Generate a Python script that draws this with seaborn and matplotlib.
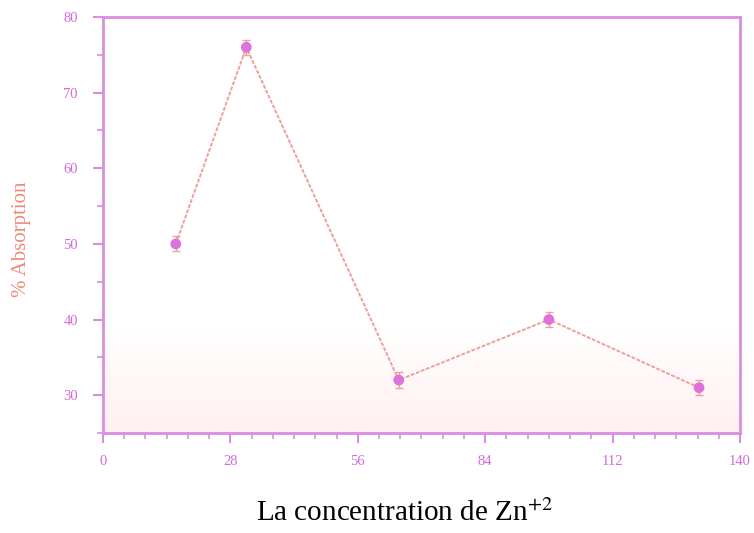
import numpy as np
import pandas as pd
import matplotlib
matplotlib.use("Agg")
import matplotlib.pyplot as plt
from matplotlib.colors import LinearSegmentedColormap
from matplotlib.ticker import MultipleLocator
import seaborn as sns

# Measured absorption against Zn2+ concentration
concentration = [16, 31.5, 65, 98, 131]
absorption = [50, 76, 32, 40, 31]
error = [1.0, 1.0, 1.0, 1.0, 1.0]
x_ticks = [0, 28, 56, 84, 112, 140]
y_ticks = [30, 40, 50, 60, 70, 80]

df = pd.DataFrame({"conc": concentration, "abs": absorption, "err": error})

sns.set_theme(style="white")
plt.rcParams["font.family"] = ["Liberation Serif", "DejaVu Serif"]
plt.rcParams["mathtext.fontset"] = "stix"

spine_c = "#d98ee0"
tick_c = "#d46ad8"
line_c = "#eaa29c"
marker_c = "#dd72dd"

fig = plt.figure(figsize=(7.54, 5.33), dpi=100)
ax = fig.add_axes([0.1366, 0.1876, 0.8448, 0.7805])

# soft pink wash in the lower part of the plotting area
grad = np.linspace(0, 1, 256).reshape(-1, 1)
cmap = LinearSegmentedColormap.from_list("wash", ["#fff0f0", "#ffffff"])
ax.imshow(grad, aspect="auto", cmap=cmap, origin="lower",
          extent=[0, 140, 25, 39], zorder=0)

ax.errorbar(df["conc"], df["abs"], yerr=df["err"], fmt="none",
            ecolor=line_c, elinewidth=1.0, capsize=3, capthick=1.0, zorder=2)
sns.lineplot(data=df, x="conc", y="abs", ax=ax, color=line_c,
             linewidth=1.4, linestyle=(0, (2, 0.8)), zorder=3)
sns.scatterplot(data=df, x="conc", y="abs", ax=ax, color=marker_c,
                s=60, edgecolor="none", zorder=4)

ax.set_xlim(0, 140)
ax.set_ylim(25, 80)
ax.set_xticks(x_ticks)
ax.set_yticks(y_ticks)
ax.xaxis.set_minor_locator(MultipleLocator(28 / 6))
ax.yaxis.set_minor_locator(MultipleLocator(5))

for s in ax.spines.values():
    s.set_visible(True)
    s.set_color(spine_c)
    s.set_linewidth(2.0)

ax.tick_params(axis="both", which="major", direction="out", length=7,
               width=1.5, color=spine_c, labelcolor=tick_c, labelsize=10.5)
ax.tick_params(axis="both", which="minor", direction="out", length=4,
               width=1.2, color=spine_c)
ax.tick_params(axis="x", which="both", bottom=True, top=False, pad=9)
ax.tick_params(axis="y", which="both", left=True, right=False, pad=11)

ax.set_xlabel("")
ax.set_ylabel("% Absorption", color="#f08a78", fontsize=15)
ax.yaxis.set_label_coords(-0.113, 0.465)

fig.text(0.536, 0.023, r"La concentration de Zn$^{+2}$", ha="center",
         va="baseline", fontsize=21, color="black")

fig.savefig("out.png", dpi=100, facecolor="white")
